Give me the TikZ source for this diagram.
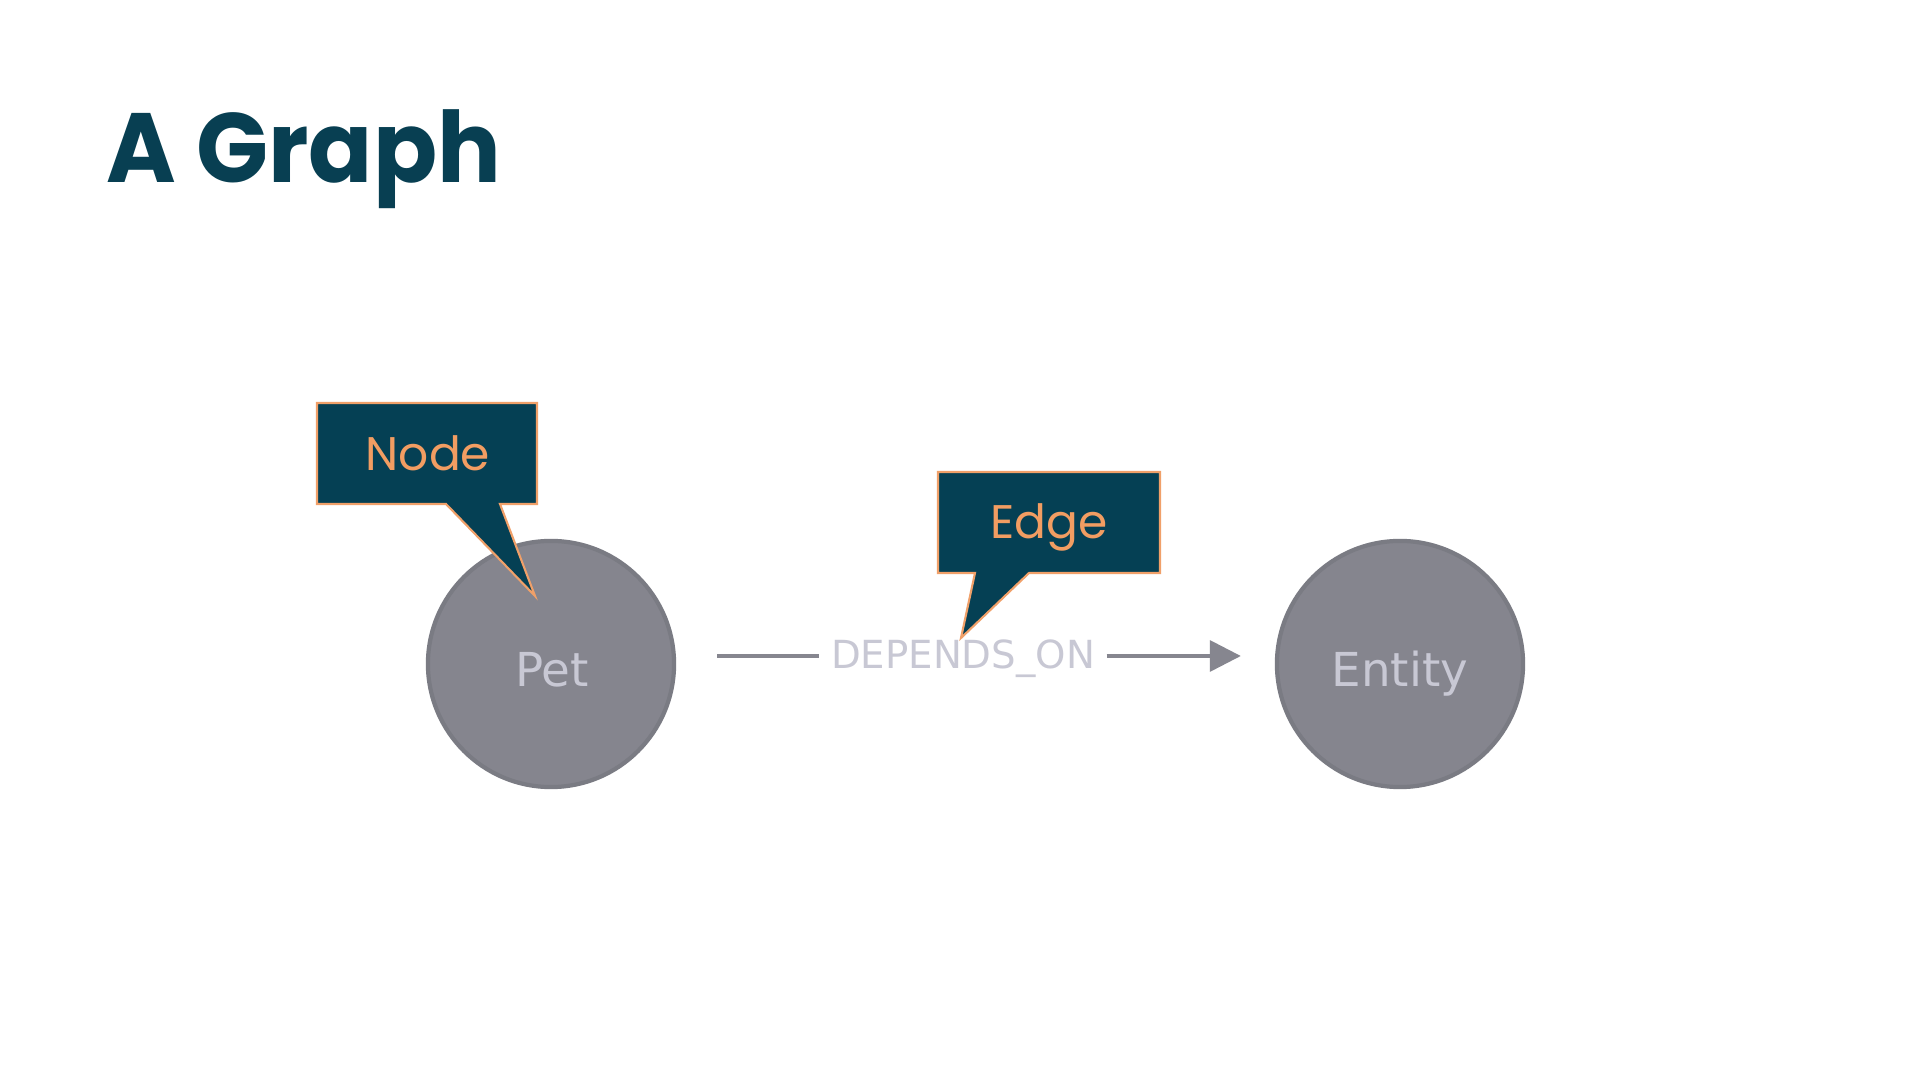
\documentclass[tikz,border=0pt]{standalone}
\usepackage{fontspec}
\setmainfont{Open Sans}
\newfontfamily\titlefont{Poppins}
\newfontfamily\calloutfont{Poppins}
\newfontfamily\circlefont{DejaVu Sans}
\newfontfamily\edgefont{DejaVu Sans}
\usetikzlibrary{arrows.meta}
\definecolor{titlecolor}{RGB}{8,63,82}
\definecolor{nodefill}{RGB}{133,133,142}
\definecolor{nodering}{RGB}{122,123,131}
\definecolor{labeltext}{RGB}{200,200,212}
\definecolor{calloutfill}{RGB}{5,64,84}
\definecolor{calloutline}{RGB}{240,160,105}
\definecolor{callouttextcol}{RGB}{242,157,98}
\definecolor{edgecolor}{RGB}{134,134,143}
\begin{document}
\begin{tikzpicture}[x=0.01cm, y=-0.01cm,
  graphnode/.style={circle, draw=nodering, line width=1.2pt, fill=nodefill, minimum size=2.46cm, inner sep=0pt},
  nodetext/.style={font=\circlefont\fontsize{13.3}{14}\selectfont, text=labeltext, anchor=base, inner sep=0pt},
  callout/.style={fill=calloutfill, draw=calloutline, line width=0.6pt, line join=miter},
  callouttext/.style={font=\calloutfont\fontsize{13.4}{14}\selectfont, text=callouttextcol, anchor=base, inner sep=0pt},
  edgeline/.style={draw=edgecolor, line width=1pt},
  deplabel/.style={font=\edgefont\fontsize{11}{12}\selectfont, text=labeltext, inner xsep=0.11cm, inner ysep=0pt, text height=0.26cm, text depth=0pt},
]
\useasboundingbox (0,0) rectangle (1920,1080);
\fill[white] (0,0) rectangle (1920,1080);
\node[anchor=base west, inner sep=0pt, xscale=0.96, font=\titlefont\bfseries\fontsize{28}{30}\selectfont, text=titlecolor] (title) at (106,183) {A Graph};
\node[graphnode] (pet) at (551,664) {};
\node[graphnode] (entity) at (1400,664) {};
\node[nodetext] (petlabel) at (552,687) {Pet};
\node[nodetext] (entitylabel) at (1400,687) {Entity};
\node[deplabel] (dep) at (963,656) {DEPENDS{\string_}ON};
\draw[edgeline, shorten <=0.41cm] (pet.east |- dep.west) -- (dep.west);
\draw[edgeline, -{Triangle[length=0.31cm, width=0.31cm]}, shorten >=0.34cm] (dep.east) -- (entity.west |- dep.east);
\draw[callout] (317,403) -- (537,403) -- (537,504) -- (500,504) -- (535,596) -- (446,504) -- (317,504) -- cycle;
\node[callouttext] (nodecallout) at (428,471) {Node};
\draw[callout] (938,472) -- (1160,472) -- (1160,573) -- (1029,573) -- (961,638) -- (975,573) -- (938,573) -- cycle;
\node[callouttext] (edgecallout) at (1049,539) {Edge};
\end{tikzpicture}
\end{document}
